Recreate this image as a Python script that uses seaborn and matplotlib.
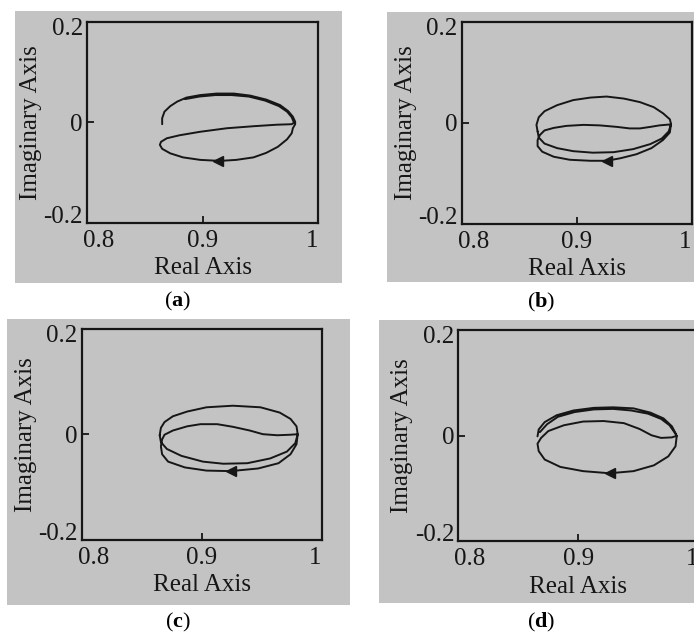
import matplotlib
matplotlib.use("Agg")
import matplotlib.pyplot as plt
from matplotlib.patches import Rectangle
from matplotlib.transforms import ScaledTranslation
import seaborn as sns
import pandas as pd

# ---------------------------------------------------------------- data
# Nyquist loci (real / imaginary parts), traced along each path in order.
a_re = [0.865, 0.865, 0.867, 0.872, 0.878, 0.886, 0.898, 0.912, 0.927, 0.941,
        0.955, 0.967, 0.974, 0.978, 0.980, 0.980,
        0.978, 0.977, 0.973, 0.965, 0.955, 0.944, 0.929, 0.915, 0.898, 0.883,
        0.872, 0.865, 0.863, 0.864, 0.869, 0.880, 0.898, 0.921, 0.944, 0.964,
        0.977, 0.979,
        0.977, 0.973, 0.966, 0.954, 0.940, 0.925, 0.911, 0.897, 0.885]
a_im = [-0.004, 0.008, 0.021, 0.032, 0.041, 0.049, 0.054, 0.057, 0.057, 0.053,
        0.045, 0.034, 0.022, 0.011, 0.001, -0.004,
        -0.012, -0.022, -0.034, -0.049, -0.061, -0.070, -0.075, -0.077, -0.075, -0.070,
        -0.062, -0.053, -0.045, -0.039, -0.032, -0.026, -0.019, -0.012, -0.008, -0.005,
        -0.004, -0.001,
        0.010, 0.021, 0.032, 0.043, 0.051, 0.054, 0.054, 0.051, 0.046]

b_re = [0.866, 0.865, 0.867, 0.872, 0.883, 0.897, 0.912, 0.926, 0.941, 0.955,
        0.967, 0.975, 0.981, 0.982,
        0.981, 0.975, 0.965, 0.952, 0.938, 0.926, 0.912, 0.894, 0.880, 0.870,
        0.866, 0.866, 0.868,
        0.872, 0.880, 0.891, 0.906, 0.920, 0.935, 0.946, 0.955, 0.964, 0.972, 0.982,
        0.980, 0.974, 0.964, 0.949, 0.932, 0.914, 0.897, 0.883, 0.872, 0.867, 0.866]
b_im = [-0.017, -0.004, 0.011, 0.023, 0.035, 0.045, 0.050, 0.052, 0.048, 0.041,
        0.031, 0.019, 0.007, -0.002,
        -0.019, -0.034, -0.050, -0.062, -0.070, -0.075, -0.075, -0.073, -0.067, -0.057,
        -0.046, -0.034, -0.024,
        -0.015, -0.010, -0.006, -0.004, -0.005, -0.008, -0.011, -0.011, -0.008, -0.005, -0.003,
        -0.017, -0.031, -0.042, -0.052, -0.058, -0.059, -0.056, -0.050, -0.041, -0.029, -0.017]

c_re = [0.865, 0.866, 0.869, 0.876, 0.888, 0.904, 0.926, 0.949, 0.965, 0.974,
        0.979, 0.980,
        0.979, 0.974, 0.964, 0.947, 0.924, 0.904, 0.886, 0.872, 0.867, 0.866, 0.867,
        0.869, 0.876, 0.888, 0.899, 0.913, 0.926, 0.940, 0.951, 0.963, 0.974, 0.980,
        0.978, 0.971, 0.957, 0.938, 0.918, 0.901, 0.883, 0.871, 0.866, 0.865]
c_im = [-0.002, 0.012, 0.023, 0.034, 0.043, 0.051, 0.054, 0.051, 0.041, 0.029,
        0.015, 0.000,
        -0.019, -0.038, -0.055, -0.065, -0.070, -0.069, -0.063, -0.052, -0.038, -0.023, -0.010,
        -0.001, 0.007, 0.015, 0.019, 0.019, 0.014, 0.007, 0.000, -0.002, -0.001, 0.000,
        -0.017, -0.033, -0.046, -0.055, -0.056, -0.052, -0.041, -0.028, -0.015, -0.002]

d_re = [0.866, 0.867, 0.872, 0.882, 0.896, 0.913, 0.929, 0.946, 0.960, 0.971,
        0.978, 0.981, 0.982,
        0.981, 0.975, 0.963, 0.946, 0.926, 0.904, 0.885, 0.872, 0.867, 0.866,
        0.869, 0.875, 0.888, 0.904, 0.921, 0.938, 0.951, 0.961, 0.969, 0.978, 0.982,
        0.980, 0.976, 0.969, 0.958, 0.944, 0.929, 0.913, 0.897, 0.883, 0.874, 0.868]
d_im = [-0.001, 0.012, 0.026, 0.039, 0.048, 0.053, 0.054, 0.052, 0.044, 0.033,
        0.018, 0.005, -0.001,
        -0.020, -0.039, -0.056, -0.067, -0.071, -0.067, -0.059, -0.045, -0.029, -0.015,
        -0.004, 0.009, 0.020, 0.027, 0.028, 0.024, 0.013, 0.001, -0.004, -0.003, 0.000,
        0.007, 0.020, 0.032, 0.042, 0.048, 0.051, 0.050, 0.045, 0.036, 0.022, 0.007]

# direction arrows on the lower branch (re, im)
arrow_re = [0.9135, 0.926, 0.924, 0.926]
arrow_im = [-0.077, -0.075, -0.070, -0.071]

panel_tags = ["a", "b", "c", "d"]
x_ticks = [0.8, 0.9, 1.0]
x_tick_labels = ["0.8", "0.9", "1"]
y_ticks = [-0.2, 0.0, 0.2]
y_tick_labels = ["-0.2", "0", "0.2"]

# ---------------------------------------------------------------- style
sns.set_theme(style="white")
plt.rcParams["font.family"] = ["Liberation Serif", "DejaVu Serif"]
plt.rcParams["mathtext.fontset"] = "custom"
plt.rcParams["mathtext.rm"] = "Liberation Serif"
plt.rcParams["mathtext.bf"] = "Liberation Serif:bold"

W, H = 694, 636
fig = plt.figure(figsize=(W / 100, H / 100), dpi=100)
fig.patch.set_facecolor("white")

GRAY = "#c3c3c3"
INK = "#161616"
FS = 18

# pixel boxes: (left, top, right, bottom)
backgrounds = [(15, 11, 342, 283), (387, 12, 694, 282),
               (7, 319, 350, 605), (379, 320, 694, 603)]
axes_boxes = [(87, 21.7, 318.3, 222.7), (461.7, 21.7, 691.7, 224),
              (81.7, 328.7, 321.7, 539.7), (458.3, 330.3, 698.3, 541.3)]
tag_pos = [(178, 301), (541, 302), (178, 622), (541, 622)]

paths = [(a_re, a_im), (b_re, b_im), (c_re, c_im), (d_re, d_im)]

for i in range(4):
    l, t, r, b = backgrounds[i]
    fig.add_artist(Rectangle((l / W, 1 - b / H), (r - l) / W, (b - t) / H,
                             transform=fig.transFigure, facecolor=GRAY,
                             edgecolor="none", zorder=0))
    al, at, ar, ab = axes_boxes[i]
    ax = fig.add_axes([al / W, 1 - ab / H, (ar - al) / W, (ab - at) / H])
    ax.set_facecolor("none")

    re, im = paths[i]
    df = pd.DataFrame({"re": re, "im": im})
    sns.lineplot(data=df, x="re", y="im", sort=False, estimator=None,
                 color=INK, lw=1.4, ax=ax)
    ax.plot([arrow_re[i]], [arrow_im[i]], marker="<", markersize=6.5,
            color=INK, linestyle="none")

    ax.set_xlim(0.8, 1.0)
    ax.set_ylim(-0.2, 0.2)
    ax.set_xticks(x_ticks)
    ax.set_xticklabels(x_tick_labels)
    ax.set_yticks(y_ticks)
    ax.set_yticklabels(y_tick_labels)
    ax.tick_params(axis="both", direction="in", length=5, width=1.3,
                   color=INK, labelsize=FS, labelcolor=INK,
                   bottom=True, left=True, top=False, right=False)
    ax.tick_params(axis="x", pad=5)
    ax.tick_params(axis="y", pad=3)
    for sp in ax.spines.values():
        sp.set_visible(True)
        sp.set_linewidth(1.6)
        sp.set_color(INK)

    xl = ax.get_xticklabels()
    xl[0].set_horizontalalignment("left")
    xl[0].set_transform(xl[0].get_transform()
                        + ScaledTranslation(-4 / 100, 0, fig.dpi_scale_trans))
    xl[-1].set_horizontalalignment("right")
    yl = ax.get_yticklabels()
    yl[0].set_verticalalignment("baseline")
    yl[-1].set_verticalalignment("top")
    yl[-1].set_transform(yl[-1].get_transform()
                         + ScaledTranslation(0, 4 / 100, fig.dpi_scale_trans))

    ax.set_xlabel("Real Axis", fontsize=FS, color=INK, labelpad=4)
    ax.set_ylabel("Imaginary Axis", fontsize=FS, color=INK, labelpad=1)

    tx, ty = tag_pos[i]
    fig.text(tx / W, 1 - ty / H, r"($\mathbf{%s}$)" % panel_tags[i],
             ha="center", va="center", fontsize=16, color="black")

fig.savefig("out.png", dpi=100, facecolor="white")
